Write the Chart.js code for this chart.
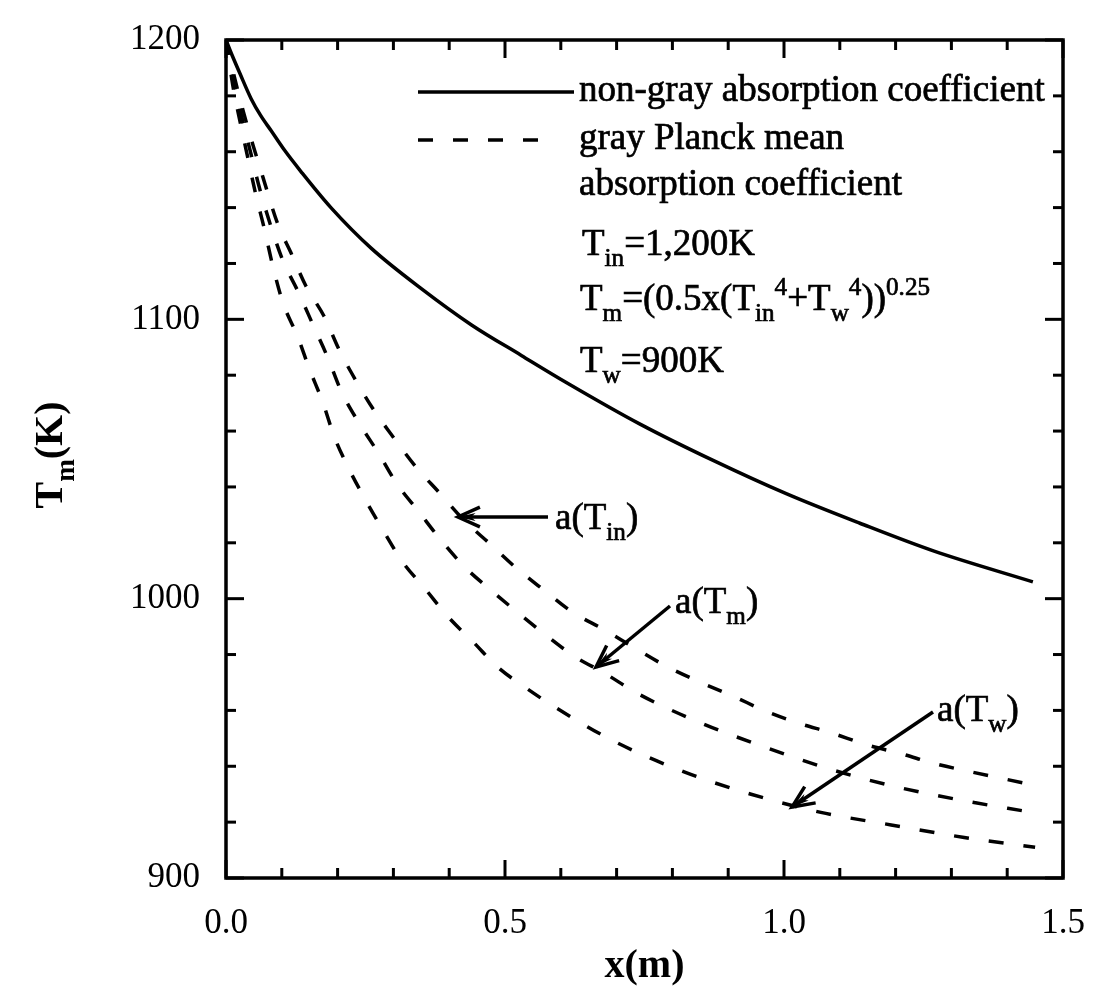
<!DOCTYPE html>
<html><head><meta charset="utf-8">
<script src="https://cdn.jsdelivr.net/npm/chart.js@4.4.1/dist/chart.umd.min.js"></script>
<style>html,body{margin:0;padding:0;background:#fff;}#wrap{width:1111px;height:987px;}</style>
</head><body><div id="wrap"><canvas id="c" width="1111" height="987"></canvas></div>
<script>
// ---- data ----
const xTickValues = [0, 0.5, 1.0, 1.5];
const xTickLabels = ['0.0', '0.5', '1.0', '1.5'];
const yTickValues = [900, 1000, 1100, 1200];
const yTickLabels = ['900', '1000', '1100', '1200'];

const nonGrayX = [0, 0.01, 0.025, 0.045, 0.062, 0.081, 0.105, 0.134, 0.188, 0.26, 0.35, 0.44, 0.53, 0.609, 0.742, 0.873, 1.005, 1.136, 1.269, 1.446];
const nonGrayT = [1200, 1195, 1188, 1179, 1173, 1167.5, 1160.5, 1153, 1140, 1125.5, 1111, 1098, 1087, 1077.5, 1062.5, 1049.5, 1037.5, 1027, 1017, 1006];

const aTinX = [0, 0.016, 0.033, 0.049, 0.066, 0.093, 0.116, 0.143, 0.176, 0.203, 0.233, 0.265, 0.301, 0.341, 0.382, 0.427, 0.471, 0.520, 0.570, 0.622, 0.677, 0.731, 0.792, 0.851, 0.910, 0.964, 1.025, 1.084, 1.151, 1.210, 1.269, 1.335, 1.43];
const aTinT = [1200, 1186, 1173, 1162, 1151, 1134, 1124, 1112, 1101, 1089, 1078, 1067.5, 1057.5, 1047, 1038, 1028, 1020, 1011, 1003, 995, 989, 982.5, 975.5, 970, 965, 960, 955.5, 952, 947.5, 944.5, 941, 938, 934];

const aTmX = [0, 0.014, 0.030, 0.045, 0.060, 0.081, 0.102, 0.129, 0.156, 0.183, 0.206, 0.238, 0.272, 0.305, 0.346, 0.385, 0.427, 0.475, 0.523, 0.573, 0.627, 0.677, 0.738, 0.851, 0.971, 1.090, 1.215, 1.341, 1.43];
const aTmT = [1200, 1185, 1171, 1159, 1147, 1133, 1121, 1110, 1098, 1086, 1074.5, 1063, 1052.5, 1041.5, 1031, 1021, 1011.5, 1003, 995, 987, 979, 973.5, 966, 955.5, 946.5, 938.5, 932, 927, 924];

const aTwX = [0, 0.012, 0.026, 0.040, 0.053, 0.068, 0.084, 0.102, 0.129, 0.149, 0.174, 0.194, 0.219, 0.251, 0.283, 0.317, 0.355, 0.398, 0.443, 0.487, 0.538, 0.591, 0.695, 0.821, 0.941, 1.066, 1.192, 1.323, 1.45];
const aTwT = [1200, 1184, 1170, 1157, 1145, 1133, 1119, 1106, 1093.5, 1082.5, 1070, 1058, 1047, 1035, 1024, 1013, 1004, 993.5, 984.5, 975.5, 968, 961, 949, 938, 930, 923.5, 919, 914.5, 911];

// ---- styles ----
const SERIF = '"Liberation Serif", "Times New Roman", serif';
const DASH = [15, 20];
const toPts = (xs, ys) => xs.map((x, i) => ({x: x, y: ys[i]}));
const lineDs = (label, xs, ys, dash) => ({
  label: label, data: toPts(xs, ys), showLine: true, borderColor: '#000', backgroundColor: '#000',
  borderWidth: 3.5, pointRadius: 0, borderDash: dash, cubicInterpolationMode: 'monotone', fill: false
});

function rich(ctx, x, y, parts, size, weight, stroke) {
  let cx = x;
  for (const [t, m] of parts) {
    const fs = m ? size * 0.68 : size;
    ctx.font = (weight || 'normal') + ' ' + fs + 'px ' + SERIF;
    const dy = m === 1 ? size * 0.3 : (m === 2 ? -size * 0.4 : 0);
    ctx.fillText(t, cx, y + dy);
    if (stroke) { ctx.lineWidth = stroke; ctx.strokeText(t, cx, y + dy); }
    cx += ctx.measureText(t).width;
  }
  return cx - x;
}
function richWidth(ctx, parts, size, weight) {
  let w = 0;
  for (const [t, m] of parts) {
    const fs = m ? size * 0.68 : size;
    ctx.font = (weight || 'normal') + ' ' + fs + 'px ' + SERIF;
    w += ctx.measureText(t).width;
  }
  return w;
}
function arrow(ctx, x1, y1, x2, y2) {
  ctx.save();
  ctx.lineWidth = 3.5; ctx.strokeStyle = '#000'; ctx.fillStyle = '#000';
  ctx.beginPath(); ctx.moveTo(x1, y1); ctx.lineTo(x2, y2); ctx.stroke();
  const a = Math.atan2(y2 - y1, x2 - x1);
  const L = 24, sp = 0.42;
  ctx.lineWidth = 3.5;
  ctx.beginPath();
  ctx.moveTo(x2 - L * Math.cos(a - sp), y2 - L * Math.sin(a - sp));
  ctx.lineTo(x2, y2);
  ctx.lineTo(x2 - L * Math.cos(a + sp), y2 - L * Math.sin(a + sp));
  ctx.stroke();
  ctx.beginPath();
  ctx.moveTo(x2, y2);
  ctx.lineTo(x2 - 18 * Math.cos(a - 0.22), y2 - 18 * Math.sin(a - 0.22));
  ctx.lineTo(x2 - 13 * Math.cos(a), y2 - 13 * Math.sin(a));
  ctx.lineTo(x2 - 18 * Math.cos(a + 0.22), y2 - 18 * Math.sin(a + 0.22));
  ctx.closePath(); ctx.fill();
  ctx.restore();
}

const framePlugin = {
  id: 'frame',
  afterDraw(chart) {
    const ctx = chart.ctx, xs = chart.scales.x, ys = chart.scales.y, ca = chart.chartArea;
    ctx.save();
    ctx.strokeStyle = '#000'; ctx.fillStyle = '#000';
    // frame
    ctx.lineWidth = 3.5;
    ctx.strokeRect(ca.left, ca.top, ca.right - ca.left, ca.bottom - ca.top);
    // inward ticks
    ctx.lineWidth = 3;
    for (let i = 0; i <= 15; i++) {
      const v = i / 10, px = xs.getPixelForValue(v), len = (i % 5 === 0) ? 18 : 10;
      ctx.beginPath(); ctx.moveTo(px, ca.bottom); ctx.lineTo(px, ca.bottom - len); ctx.stroke();
      ctx.beginPath(); ctx.moveTo(px, ca.top); ctx.lineTo(px, ca.top + len); ctx.stroke();
    }
    for (let v = 900; v <= 1200; v += 20) {
      const py = ys.getPixelForValue(v), len = (v % 100 === 0) ? 18 : 10;
      ctx.beginPath(); ctx.moveTo(ca.left, py); ctx.lineTo(ca.left + len, py); ctx.stroke();
      ctx.beginPath(); ctx.moveTo(ca.right, py); ctx.lineTo(ca.right - len, py); ctx.stroke();
    }
    // axis titles
    ctx.textBaseline = 'alphabetic';
    ctx.textAlign = 'center';
    ctx.font = 'bold 40px ' + SERIF;
    ctx.fillText('x(m)', (ca.left + ca.right) / 2, 977);
    ctx.textAlign = 'left';
    const yt = [['T', 0], ['m', 1], ['(K)', 0]];
    const w = richWidth(ctx, yt, 40, 'bold');
    ctx.save();
    ctx.translate(62, (ca.top + ca.bottom) / 2 + w / 2 - 4);
    ctx.rotate(-Math.PI / 2);
    rich(ctx, 0, 0, yt, 40, 'bold');
    ctx.restore();
    // legend
    const F = 37, S = 0.7;
    ctx.lineWidth = 3.5;
    ctx.beginPath(); ctx.moveTo(418, 92); ctx.lineTo(574, 92); ctx.stroke();
    ctx.setLineDash([15, 20]);
    ctx.beginPath(); ctx.moveTo(418, 140); ctx.lineTo(540, 140); ctx.stroke();
    ctx.setLineDash([]);
    rich(ctx, 579, 101, [['non-gray absorption coefficient', 0]], F, 'normal', S);
    rich(ctx, 579, 149, [['gray Planck mean', 0]], F, 'normal', S);
    rich(ctx, 579, 195, [['absorption coefficient', 0]], F, 'normal', S);
    rich(ctx, 582, 255, [['T', 0], ['in', 1], ['=1,200K', 0]], F, 'normal', S);
    rich(ctx, 580, 310, [['T', 0], ['m', 1], ['=(0.5x(T', 0], ['in', 1], ['4', 2], ['+T', 0], ['w', 1], ['4', 2], ['))', 0], ['0.25', 2]], F, 'normal', S);
    rich(ctx, 580, 372, [['T', 0], ['w', 1], ['=900K', 0]], F, 'normal', S);
    // annotations
    arrow(ctx, 548, 517, 458, 517);
    rich(ctx, 555, 529, [['a(T', 0], ['in', 1], [')', 0]], F, 'normal', S);
    arrow(ctx, 670, 606, 596, 667);
    rich(ctx, 675, 613, [['a(T', 0], ['m', 1], [')', 0]], F, 'normal', S);
    arrow(ctx, 933, 712, 792, 807);
    rich(ctx, 937, 721, [['a(T', 0], ['w', 1], [')', 0]], F, 'normal', S);
    ctx.restore();
  }
};

new Chart(document.getElementById('c').getContext('2d'), {
  type: 'scatter',
  data: {
    datasets: [
      lineDs('non-gray absorption coefficient', nonGrayX, nonGrayT, []),
      lineDs('a(T_in)', aTinX, aTinT, DASH),
      lineDs('a(T_m)', aTmX, aTmT, DASH),
      lineDs('a(T_w)', aTwX, aTwT, DASH)
    ]
  },
  options: {
    responsive: false, animation: false, devicePixelRatio: 1,
    layout: {padding: {top: 40, right: 48, left: 0, bottom: 0}},
    plugins: {legend: {display: false}, tooltip: {enabled: false}},
    scales: {
      x: {
        type: 'linear', min: 0, max: 1.5,
        afterBuildTicks: (s) => { s.ticks = xTickValues.map(v => ({value: v})); },
        ticks: {callback: (v) => xTickLabels[xTickValues.indexOf(v)], font: {family: SERIF, size: 35}, color: '#000', padding: 17, maxRotation: 0, autoSkip: false},
        grid: {display: false}, border: {display: false},
        afterFit: (s) => { s.height = 109; }
      },
      y: {
        type: 'linear', min: 900, max: 1200,
        afterBuildTicks: (s) => { s.ticks = yTickValues.map(v => ({value: v})); },
        ticks: {callback: (v) => yTickLabels[yTickValues.indexOf(v)], font: {family: SERIF, size: 35}, color: '#000', padding: 18, autoSkip: false},
        grid: {display: false}, border: {display: false},
        afterFit: (s) => { s.width = 226; }
      }
    }
  },
  plugins: [framePlugin]
});
</script></body></html>
